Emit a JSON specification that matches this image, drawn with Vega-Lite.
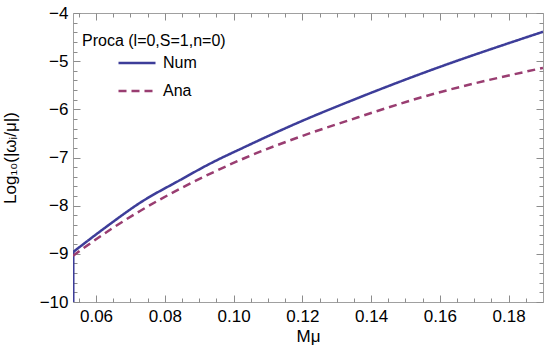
{
  "$schema": "https://vega.github.io/schema/vega-lite/v6.json",
  "width": 470,
  "height": 289,
  "autosize": {"type": "none"},
  "padding": {"left": 73, "top": 13, "right": 2, "bottom": 59},
  "background": "white",
  "config": {
    "view": {"stroke": "#a0a0a0", "strokeWidth": 1},
    "font": "Liberation Sans",
    "axis": {"grid": false, "domain": false}
  },
  "data": {
    "values": [
      {"series": "Num", "seg": "N0", "M": 0.05338, "v": -10.3},
      {"series": "Num", "seg": "N0", "M": 0.05338, "v": -8.96},
      {"series": "Num", "seg": "N1", "M": 0.05338, "v": -8.96},
      {"series": "Num", "seg": "N1", "M": 0.0641, "v": -8.38},
      {"series": "Num", "seg": "N1", "M": 0.0728, "v": -7.94},
      {"series": "Num", "seg": "N1", "M": 0.0844, "v": -7.47},
      {"series": "Num", "seg": "N1", "M": 0.0931, "v": -7.13},
      {"series": "Num", "seg": "N1", "M": 0.1033, "v": -6.78},
      {"series": "Num", "seg": "N1", "M": 0.1193, "v": -6.26},
      {"series": "Num", "seg": "N1", "M": 0.1339, "v": -5.83},
      {"series": "Num", "seg": "N1", "M": 0.1542, "v": -5.27},
      {"series": "Num", "seg": "N1", "M": 0.19, "v": -4.39},
      {"series": "Ana", "seg": "A1", "M": 0.0533, "v": -9.04},
      {"series": "Ana", "seg": "A1", "M": 0.0641, "v": -8.5},
      {"series": "Ana", "seg": "A1", "M": 0.0728, "v": -8.11},
      {"series": "Ana", "seg": "A1", "M": 0.0844, "v": -7.65},
      {"series": "Ana", "seg": "A1", "M": 0.0931, "v": -7.34},
      {"series": "Ana", "seg": "A1", "M": 0.1033, "v": -7.01},
      {"series": "Ana", "seg": "A1", "M": 0.1193, "v": -6.57},
      {"series": "Ana", "seg": "A1", "M": 0.1339, "v": -6.22},
      {"series": "Ana", "seg": "A1", "M": 0.1542, "v": -5.76},
      {"series": "Ana", "seg": "A1", "M": 0.19, "v": -5.14}
    ]
  },
  "resolve": {"axis": {"x": "independent", "y": "independent"}},
  "layer": [
    {
      "mark": {"type": "line", "strokeWidth": 2.5, "interpolate": "monotone", "clip": true},
      "encoding": {
        "x": {
          "field": "M", "type": "quantitative",
          "scale": {"domain": [0.0533, 0.19], "nice": false, "zero": false},
          "axis": {
            "orient": "bottom", "title": "Mμ", "values": [0.06, 0.08, 0.1, 0.12, 0.14, 0.16, 0.18],
            "format": ".2f", "ticks": false, "labelFontSize": 17, "labelPadding": 6, "labelColor": "#000",
            "titleFontSize": 17, "titleFontWeight": "normal", "titleColor": "#000", "titlePadding": 4
          }
        },
        "y": {
          "field": "v", "type": "quantitative",
          "scale": {"domain": [-10, -4], "nice": false, "zero": false},
          "axis": {
            "orient": "left", "title": "Log₁₀(|ωᵢ/μ|)", "values": [-10, -9, -8, -7, -6, -5, -4],
            "format": "d", "ticks": false, "labelFontSize": 17, "labelPadding": 5, "labelColor": "#000",
            "titleFontSize": 17, "titleFontWeight": "normal", "titleColor": "#000", "titlePadding": 20
          }
        },
        "detail": {"field": "seg", "type": "nominal"},
        "color": {
          "field": "series", "type": "nominal",
          "scale": {"domain": ["Num", "Ana"], "range": ["#3d3d99", "#993d71"]},
          "legend": {
            "title": "Proca (l=0,S=1,n=0)", "orient": "none", "legendX": 5, "legendY": 16,
            "titleFontSize": 16, "titleFontWeight": "normal", "titleColor": "#000", "titlePadding": -6,
            "labelFontSize": 16, "labelColor": "#000", "labelOffset": 6,
            "symbolType": "stroke", "symbolSize": 1369, "symbolStrokeWidth": 2.5, "symbolOffset": 35,
            "rowPadding": -5, "padding": 4
          }
        },
        "strokeDash": {
          "field": "series", "type": "nominal",
          "scale": {"domain": ["Num", "Ana"], "range": [[1, 0], [8, 5]]},
          "legend": {
            "title": "Proca (l=0,S=1,n=0)", "orient": "none", "legendX": 5, "legendY": 16,
            "titleFontSize": 16, "titleFontWeight": "normal", "titleColor": "#000", "titlePadding": -6,
            "labelFontSize": 16, "labelColor": "#000", "labelOffset": 6,
            "symbolType": "stroke", "symbolSize": 1369, "symbolStrokeWidth": 2.5, "symbolOffset": 35,
            "rowPadding": -5, "padding": 4
          }
        }
      }
    },
    {
      "mark": {"type": "line", "opacity": 0},
      "encoding": {
        "x": {"field": "M", "type": "quantitative", "axis": {"orient": "bottom", "title": null, "labels": false, "ticks": true, "values": [0.06, 0.08, 0.1, 0.12, 0.14, 0.16, 0.18], "tickSize": -7, "tickColor": "#8c8c8c"}},
        "y": {"field": "v", "type": "quantitative", "axis": {"orient": "left", "title": null, "labels": false, "ticks": true, "values": [-10, -9, -8, -7, -6, -5, -4], "tickSize": -7, "tickColor": "#8c8c8c"}}
      }
    },
    {
      "mark": {"type": "line", "opacity": 0},
      "encoding": {
        "x": {"field": "M", "type": "quantitative", "axis": {"orient": "bottom", "title": null, "labels": false, "ticks": true, "values": [0.055, 0.065, 0.07, 0.075, 0.085, 0.09, 0.095, 0.105, 0.11, 0.115, 0.125, 0.13, 0.135, 0.145, 0.15, 0.155, 0.165, 0.17, 0.175, 0.185], "tickSize": -4, "tickColor": "#8c8c8c"}},
        "y": {"field": "v", "type": "quantitative", "axis": {"orient": "left", "title": null, "labels": false, "ticks": true, "values": [-9.8, -9.6, -9.4, -9.2, -8.8, -8.6, -8.4, -8.2, -7.8, -7.6, -7.4, -7.2, -6.8, -6.6, -6.4, -6.2, -5.8, -5.6, -5.4, -5.2, -4.8, -4.6, -4.4, -4.2], "tickSize": -4, "tickColor": "#8c8c8c"}}
      }
    },
    {
      "mark": {"type": "line", "opacity": 0},
      "encoding": {
        "x": {"field": "M", "type": "quantitative", "axis": {"orient": "top", "title": null, "labels": false, "ticks": true, "values": [0.06, 0.08, 0.1, 0.12, 0.14, 0.16, 0.18], "tickSize": -7, "tickColor": "#8c8c8c"}},
        "y": {"field": "v", "type": "quantitative", "axis": {"orient": "right", "title": null, "labels": false, "ticks": true, "values": [-10, -9, -8, -7, -6, -5, -4], "tickSize": -7, "tickColor": "#8c8c8c"}}
      }
    },
    {
      "mark": {"type": "line", "opacity": 0},
      "encoding": {
        "x": {"field": "M", "type": "quantitative", "axis": {"orient": "top", "title": null, "labels": false, "ticks": true, "values": [0.055, 0.065, 0.07, 0.075, 0.085, 0.09, 0.095, 0.105, 0.11, 0.115, 0.125, 0.13, 0.135, 0.145, 0.15, 0.155, 0.165, 0.17, 0.175, 0.185], "tickSize": -4, "tickColor": "#8c8c8c"}},
        "y": {"field": "v", "type": "quantitative", "axis": {"orient": "right", "title": null, "labels": false, "ticks": true, "values": [-9.8, -9.6, -9.4, -9.2, -8.8, -8.6, -8.4, -8.2, -7.8, -7.6, -7.4, -7.2, -6.8, -6.6, -6.4, -6.2, -5.8, -5.6, -5.4, -5.2, -4.8, -4.6, -4.4, -4.2], "tickSize": -4, "tickColor": "#8c8c8c"}}
      }
    }
  ]
}
